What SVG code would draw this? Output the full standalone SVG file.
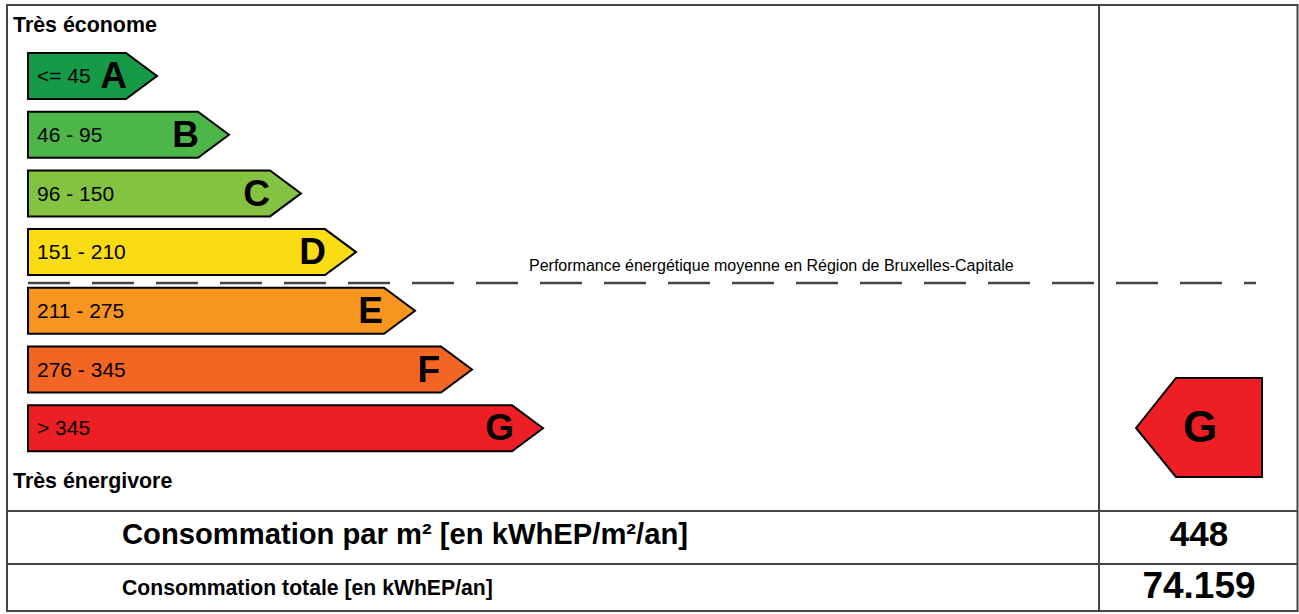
<svg xmlns="http://www.w3.org/2000/svg" width="1299" height="614" viewBox="0 0 1299 614">
<style>
.frame{fill:none;stroke:#444;stroke-width:2}
.arr{stroke:#000;stroke-width:2;stroke-linejoin:miter}
.rng{font-family:"Liberation Sans",Arial,sans-serif;font-size:21px;fill:#000}
.let{font-family:"Liberation Sans",Arial,sans-serif;font-size:37px;font-weight:bold;fill:#000;text-anchor:end}
.hd{font-family:"Liberation Sans",Arial,sans-serif;font-size:21.4px;font-weight:bold;fill:#000}
.big{font-family:"Liberation Sans",Arial,sans-serif;font-weight:bold;fill:#000}
.val{font-family:"Liberation Sans",Arial,sans-serif;font-weight:bold;fill:#000;text-anchor:middle}
</style>
<rect width="1299" height="614" fill="#fff"/>
<g id="frame">
<rect class="frame" x="7" y="5" width="1290.5" height="606"/>
<line class="frame" x1="1099" y1="5" x2="1099" y2="611"/>
<line class="frame" x1="7" y1="511" x2="1297.5" y2="511"/>
<line class="frame" x1="7" y1="564" x2="1297.5" y2="564"/>
</g>
<g id="labels">
<text class="hd" x="13" y="32">Très économe</text>
<text class="hd" x="13" y="488">Très énergivore</text>
</g>
<g id="arrow-A">
<polygon class="arr" fill="#159a48" points="28,53 126,53 157,76 126,99 28,99"/>
<text class="rng" x="37" y="83">&lt;= 45</text>
<text class="let" x="127" y="88">A</text>
</g>
<g id="arrow-B">
<polygon class="arr" fill="#4cb748" points="28,111.7 198,111.7 229,134.7 198,157.7 28,157.7"/>
<text class="rng" x="37" y="142">46 - 95</text>
<text class="let" x="199" y="147">B</text>
</g>
<g id="arrow-C">
<polygon class="arr" fill="#84c341" points="28,170.4 270,170.4 301,193.4 270,216.4 28,216.4"/>
<text class="rng" x="37" y="201">96 - 150</text>
<text class="let" x="270" y="206">C</text>
</g>
<g id="arrow-D">
<polygon class="arr" fill="#fadc14" points="28,229.1 325,229.1 356,252.1 325,275.1 28,275.1"/>
<text class="rng" x="37" y="259">151 - 210</text>
<text class="let" x="326" y="264">D</text>
</g>
<g id="arrow-E">
<polygon class="arr" fill="#f7951e" points="28,287.8 384,287.8 415,310.8 384,333.8 28,333.8"/>
<text class="rng" x="37" y="318">211 - 275</text>
<text class="let" x="383" y="323">E</text>
</g>
<g id="arrow-F">
<polygon class="arr" fill="#f26522" points="28,346.5 441,346.5 472,369.5 441,392.5 28,392.5"/>
<text class="rng" x="37" y="377">276 - 345</text>
<text class="let" x="440" y="382">F</text>
</g>
<g id="arrow-G">
<polygon class="arr" fill="#ed1f24" points="28,405.2 512,405.2 543,428.2 512,451.2 28,451.2"/>
<text class="rng" x="37" y="435">&gt; 345</text>
<text class="let" x="514" y="440">G</text>
</g>
<g id="average">
<line x1="28" y1="283" x2="1256" y2="283" stroke="#444" stroke-width="2.5" stroke-dasharray="42 22"/>
<text x="529" y="271" font-family="&quot;Liberation Sans&quot;,Arial,sans-serif" font-size="16" fill="#000">Performance énergétique moyenne en Région de Bruxelles-Capitale</text>
</g>
<g id="indicator">
<polygon class="arr" fill="#ed1f24" points="1136,428 1176,378 1262,378 1262,477 1176,477"/>
<text class="val" x="1200" y="442" font-size="44">G</text>
</g>
<g id="table">
<text class="big" x="122" y="544" font-size="29.2">Consommation par m² [en kWhEP/m²/an]</text>
<text class="big" x="122" y="595" font-size="21.2">Consommation totale [en kWhEP/an]</text>
<text class="val" x="1199" y="546" font-size="35">448</text>
<text class="val" x="1199" y="598" font-size="37">74.159</text>
</g>
</svg>
